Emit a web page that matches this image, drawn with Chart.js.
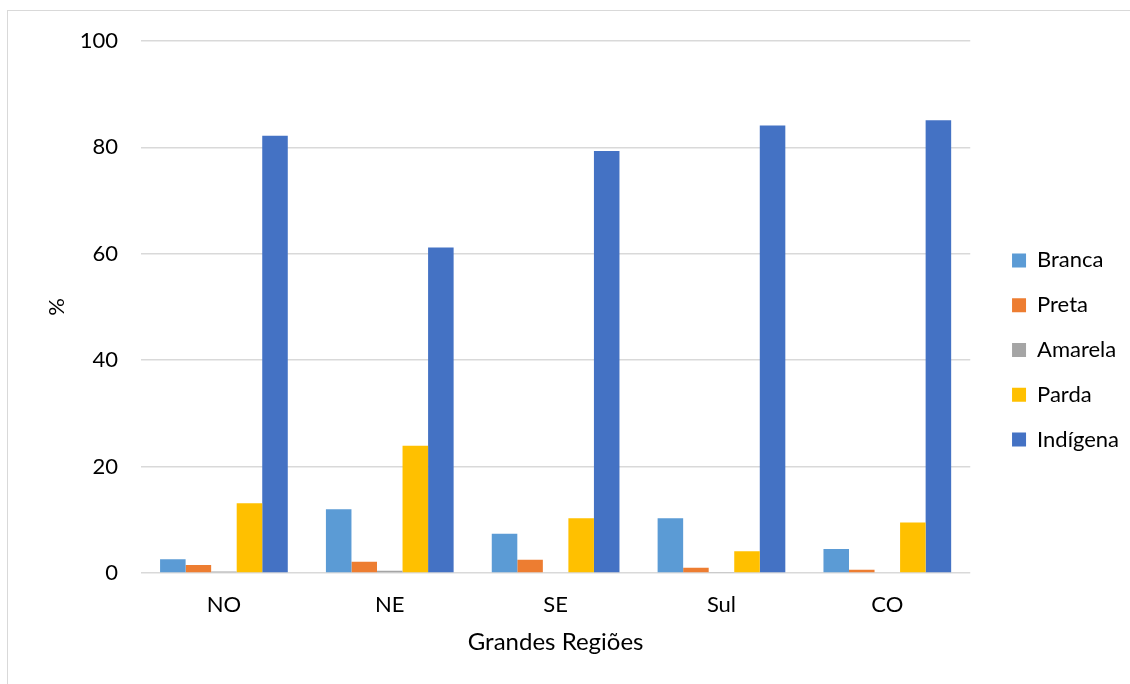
<!DOCTYPE html>
<html>
<head>
<meta charset="utf-8">
<script src="https://cdn.jsdelivr.net/npm/chart.js@4.4.1/dist/chart.umd.min.js"></script>
<style>
  html, body { margin: 0; padding: 0; background: #ffffff; overflow: hidden; }
  #frame {
    position: absolute; left: 7px; top: 10px; width: 1300px; height: 900px;
    border-left: 1px solid #d9d9d9; border-top: 1px solid #d9d9d9;
  }
  #wrap { position: absolute; left: 0; top: 0; width: 1130px; height: 684px; }
</style>
</head>
<body>
<div id="frame"></div>
<div id="wrap"><canvas id="chart" width="1130" height="684"></canvas></div>
<script>
// Regions on the x axis
const regions = ['NO', 'NE', 'SE', 'Sul', 'CO'];

// Share (%) of each colour/race group per region
const branca   = [2.6, 12.0, 7.4, 10.3, 4.5];
const preta    = [1.5, 2.1, 2.5, 1.0, 0.6];
const amarela  = [0.3, 0.4, 0.0, 0.1, 0.0];
const parda    = [13.1, 23.9, 10.3, 4.1, 9.5];
const indigena = [82.2, 61.2, 79.3, 84.1, 85.1];

// Y axis tick values
const yTicks = [0, 20, 40, 60, 80, 100];

const FONT = 'Lato, Carlito, "Liberation Sans", sans-serif';

// Nudges the right-hand legend away from the plot area
const legendShift = {
  id: 'legendShift',
  afterLayout(chart) {
    const lg = chart.legend;
    if (lg) { lg.left += 19; lg.right += 19; }
  }
};

new Chart(document.getElementById('chart'), {
  type: 'bar',
  data: {
    labels: regions,
    datasets: [
      { label: 'Branca',   data: branca,   backgroundColor: '#5B9BD5' },
      { label: 'Preta',    data: preta,    backgroundColor: '#ED7D31' },
      { label: 'Amarela',  data: amarela,  backgroundColor: '#A5A5A5' },
      { label: 'Parda',    data: parda,    backgroundColor: '#FFC000' },
      { label: 'Indígena', data: indigena, backgroundColor: '#4472C4' }
    ]
  },
  options: {
    responsive: false,
    animation: false,
    layout: { padding: { left: 10, top: 41, right: 20, bottom: 25 } },
    datasets: { bar: { categoryPercentage: 0.77, barPercentage: 1.0 } },
    plugins: {
      tooltip: { enabled: false },
      legend: {
        position: 'right',
        labels: {
          boxWidth: 14, boxHeight: 14, padding: 22.8,
          color: '#000000',
          font: { family: FONT, size: 22 }
        }
      }
    },
    scales: {
      x: {
        grid: { display: false, drawTicks: false },
        border: { display: false },
        ticks: { color: '#000000', padding: 19, font: { family: FONT, size: 22 } },
        title: {
          display: true, text: 'Grandes Regiões', color: '#000000',
          font: { family: FONT, size: 24 }, padding: { top: 0, bottom: 2 }
        },
        afterFit(scale) { scale.height = 86; }
      },
      y: {
        min: 0, max: 100,
        grid: { color: '#d9d9d9', lineWidth: 1.5, drawTicks: false },
        border: { display: false },
        afterBuildTicks(scale) { scale.ticks = yTicks.map(v => ({ value: v })); },
        ticks: { color: '#000000', padding: 23, font: { family: FONT, size: 22 } },
        title: {
          display: true, text: '%', color: '#000000',
          font: { family: FONT, size: 22 }, padding: { top: 34, bottom: 0 }
        },
        afterFit(scale) { scale.width = 131; }
      }
    }
  },
  plugins: [legendShift]
});
</script>
</body>
</html>
